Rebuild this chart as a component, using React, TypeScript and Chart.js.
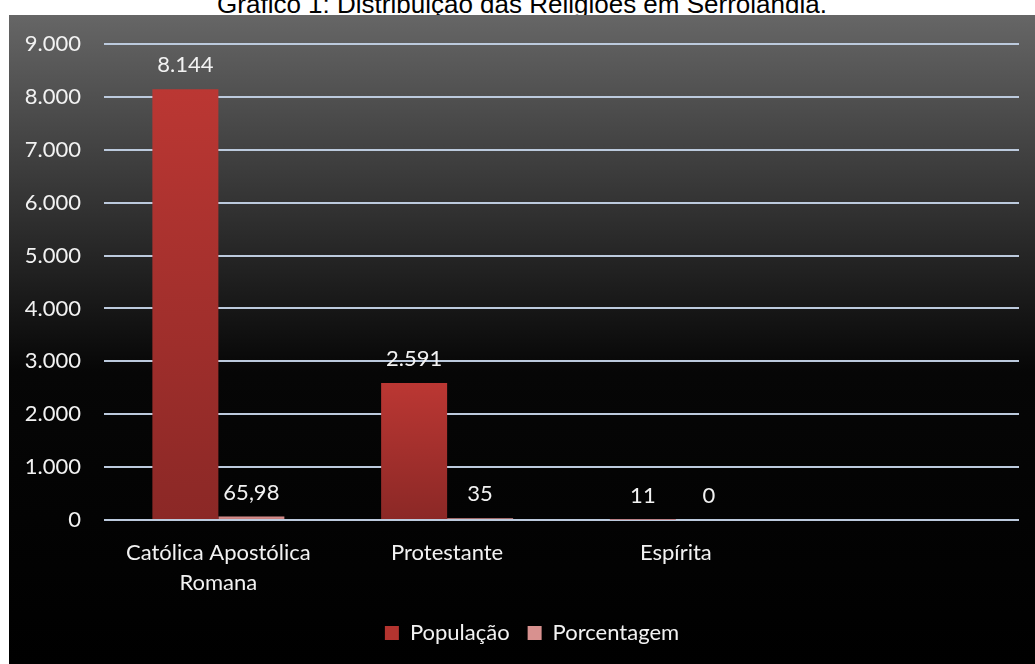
import React, { useEffect, useRef } from "react";
import { Chart, registerables } from "chart.js";

Chart.register(...registerables);

const TITLE = "Gráfico 1: Distribuição das Religiões em Serrolândia.";
const categories: (string | string[])[] = [["Católica Apostólica", "Romana"], "Protestante", "Espírita", ""];
const populacao: (number | null)[] = [8144, 2591, 11, null];
const porcentagem: (number | null)[] = [65.98, 35, 0, null];
const seriesNames = ["População", "Porcentagem"];
const yMax = 9000;
const yStep = 1000;

const FONT = "Lato";
const LEGEND_COLORS = ["#b3342f", "#d8918f"];

function fmtBR(v: number): string {
  const [intPart, dec] = String(v).split(".");
  const intF = intPart.replace(/\B(?=(\d{3})+(?!\d))/g, ".");
  return dec ? intF + "," + dec : intF;
}

function barGradient(solid: string, topColor: string, bottomColor: string) {
  return (ctx: any) => {
    const chart = ctx.chart;
    if (ctx.type !== "data" || !chart.chartArea || !chart.scales.y) return solid;
    const ys = chart.scales.y;
    const top = ys.getPixelForValue(ctx.raw ?? 0);
    const bottom = ys.getPixelForValue(0);
    if (!isFinite(top) || !isFinite(bottom) || bottom - top < 1) return solid;
    const g = chart.ctx.createLinearGradient(0, top, 0, bottom);
    g.addColorStop(0, topColor);
    g.addColorStop(1, bottomColor);
    return g;
  };
}

const bgPlugin = {
  id: "bgGradient",
  beforeDraw(chart: any) {
    const { ctx, width, height } = chart;
    const g = ctx.createLinearGradient(0, 0, 0, height);
    g.addColorStop(0, "#666666");
    g.addColorStop(0.55, "#060606");
    g.addColorStop(1, "#000000");
    ctx.save();
    ctx.fillStyle = g;
    ctx.fillRect(0, 0, width, height);
    ctx.restore();
  },
};

const legendShiftPlugin = {
  id: "legendShift",
  afterLayout(chart: any) {
    const lg = chart.legend;
    if (lg) {
      lg.left += 18;
      lg.right += 18;
      if (lg.legendHitBoxes) lg.legendHitBoxes.forEach((b: any) => (b.left += 18));
    }
  },
};

const labelPlugin = {
  id: "valueLabels",
  afterDatasetsDraw(chart: any) {
    const { ctx } = chart;
    ctx.save();
    ctx.font = `22px ${FONT}`;
    ctx.fillStyle = "#f2f2f2";
    ctx.textAlign = "center";
    ctx.textBaseline = "middle";
    chart.data.datasets.forEach((ds: any, i: number) => {
      const meta = chart.getDatasetMeta(i);
      meta.data.forEach((el: any, j: number) => {
        const v = ds.data[j];
        if (v == null) return;
        ctx.fillText(fmtBR(v), el.x, el.y - 24);
      });
    });
    ctx.restore();
  },
};

export default function App() {
  const ref = useRef<HTMLCanvasElement>(null);

  useEffect(() => {
    if (!ref.current) return;
    const chart = new Chart(ref.current, {
      type: "bar",
      data: {
        labels: categories,
        datasets: [
          {
            label: seriesNames[0],
            data: populacao,
            backgroundColor: barGradient("#b63632", "#bb3733", "#8b2826"),
            categoryPercentage: 0.577,
            barPercentage: 1,
          },
          {
            label: seriesNames[1],
            data: porcentagem,
            backgroundColor: barGradient("#d68d8b", "#db9391", "#c07472"),
            categoryPercentage: 0.577,
            barPercentage: 1,
          },
        ],
      },
      options: {
        responsive: false,
        animation: false,
        layout: { padding: { top: 29, right: 16, left: 0, bottom: 10 } },
        plugins: {
          title: { display: false },
          tooltip: { enabled: false },
          legend: {
            position: "bottom",
            labels: {
              color: "#f2f2f2",
              font: { family: FONT, size: 22 },
              boxWidth: 14,
              boxHeight: 14,
              padding: 18,
              generateLabels(c: any) {
                const items = Chart.defaults.plugins.legend.labels.generateLabels(c);
                items.forEach((it: any, i: number) => {
                  it.fillStyle = LEGEND_COLORS[i % LEGEND_COLORS.length];
                  it.strokeStyle = "rgba(0,0,0,0)";
                  it.lineWidth = 0;
                });
                return items;
              },
            },
          },
        },
        scales: {
          x: {
            grid: { display: false },
            border: { display: false },
            ticks: {
              color: "#f2f2f2",
              font: { family: FONT, size: 22, lineHeight: 1.364 },
              padding: 10,
              maxRotation: 0,
              autoSkip: false,
            },
            afterFit(scale: any) {
              scale.height = 84;
            },
          },
          y: {
            min: 0,
            max: yMax,
            grid: { color: "#bccadd", lineWidth: 2, drawTicks: false },
            border: { display: false },
            ticks: {
              stepSize: yStep,
              color: "#f2f2f2",
              font: { family: FONT, size: 22 },
              padding: 23,
              callback: (v: any) => fmtBR(Number(v)),
            },
            afterFit(scale: any) {
              scale.width = 95;
              scale.paddingTop = 0;
              scale.paddingBottom = 0;
            },
          },
        },
      },
      plugins: [bgPlugin, labelPlugin, legendShiftPlugin],
    });
    return () => chart.destroy();
  }, []);

  return (
    <div
      style={{
        position: "fixed",
        left: 0,
        top: 0,
        width: 1035,
        height: 664,
        background: "#ffffff",
        overflow: "hidden",
      }}
    >
      <div
        style={{
          position: "absolute",
          left: 9,
          width: 1026,
          top: -9,
          textAlign: "center",
          fontFamily: '"Liberation Sans", Arial, sans-serif',
          fontSize: 26,
          lineHeight: "26px",
          color: "#000",
          whiteSpace: "nowrap",
        }}
      >
        {TITLE}
      </div>
      <canvas
        ref={ref}
        width={1026}
        height={649}
        style={{ position: "absolute", left: 9, top: 15 }}
      />
    </div>
  );
}
